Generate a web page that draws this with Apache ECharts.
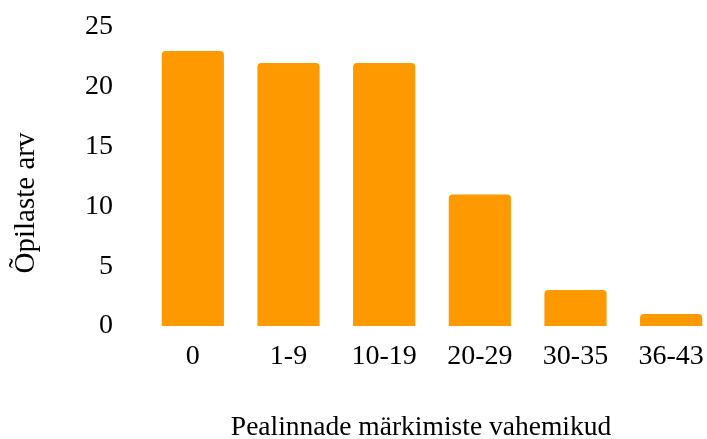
<!DOCTYPE html>
<html>
<head>
<meta charset="utf-8">
<script src="https://cdn.jsdelivr.net/npm/echarts@6/dist/echarts.min.js"></script>
<style>
html,body{margin:0;padding:0;background:#fff;overflow:hidden;width:707px;height:439px;}
#chart{width:722px;height:439px;}
</style>
</head>
<body>
<div id="chart"></div>
<script>
const categories = ['0', '1-9', '10-19', '20-29', '30-35', '36-43'];
const values = [23, 22, 22, 11, 3, 1];
const yTicks = [0, 5, 10, 15, 20, 25];
const yTitle = 'Õpilaste arv';
const xTitle = 'Pealinnade märkimiste vahemikud';

const FONT = '"Liberation Serif", "Times New Roman", serif';
const chart = echarts.init(document.getElementById('chart'), null, {renderer: 'canvas'});
chart.setOption({
  animation: false,
  backgroundColor: '#fff',
  grid: {left: 145, top: 27, width: 574, height: 299, containLabel: false},
  xAxis: {
    type: 'category',
    data: categories,
    axisLine: {show: false},
    axisTick: {show: false},
    axisLabel: {color: '#000', fontFamily: FONT, fontSize: 28, margin: 17}
  },
  yAxis: {
    type: 'value',
    min: yTicks[0],
    max: yTicks[yTicks.length - 1],
    interval: 5,
    splitLine: {show: false},
    axisLine: {show: false},
    axisTick: {show: false},
    axisLabel: {color: '#000', fontFamily: FONT, fontSize: 28, margin: 32, padding: [5, 0, 0, 0]}
  },
  series: [{
    type: 'bar',
    data: values,
    barCategoryGap: '35%',
    itemStyle: {color: '#FF9900', borderRadius: [4, 4, 0, 0]}
  }],
  graphic: [
    {
      type: 'text',
      x: 26, y: 203,
      rotation: Math.PI / 2,
      style: {text: yTitle, fill: '#000', font: '29px ' + FONT, align: 'center', verticalAlign: 'middle'}
    },
    {
      type: 'text',
      x: 421, y: 428,
      style: {text: xTitle, fill: '#000', font: '27.5px ' + FONT, align: 'center', verticalAlign: 'middle'}
    }
  ]
});
</script>
</body>
</html>
